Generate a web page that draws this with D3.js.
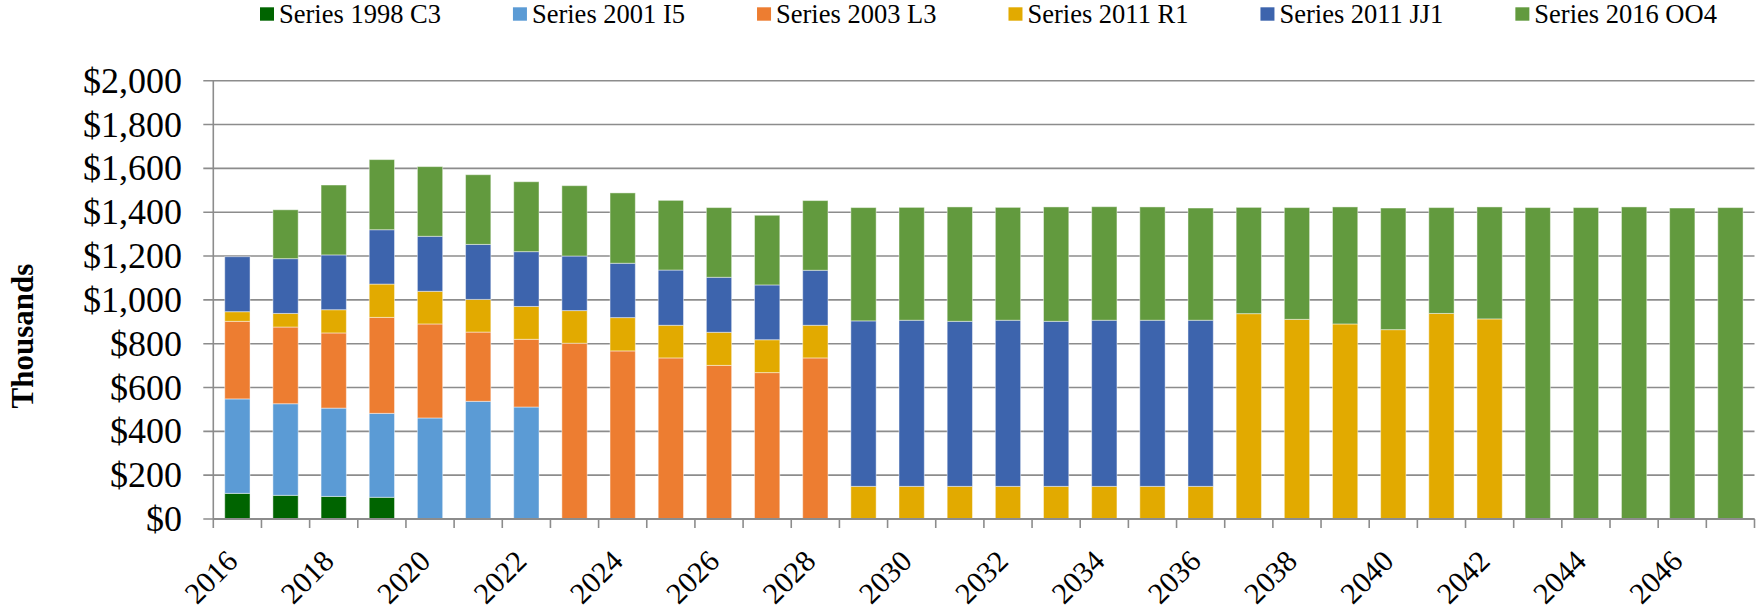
<!DOCTYPE html>
<html>
<head>
<meta charset="utf-8">
<script src="https://cdn.jsdelivr.net/npm/d3@7"></script>
<style>
  body { margin: 0; background: #fff; }
  svg text { font-family: "Liberation Serif", "Times New Roman", serif; fill: #000; }
</style>
</head>
<body>
<script>
// categories
const years = [2016, 2017, 2018, 2019, 2020, 2021, 2022, 2023, 2024, 2025, 2026, 2027, 2028, 2029, 2030, 2031,
               2032, 2033, 2034, 2035, 2036, 2037, 2038, 2039, 2040, 2041, 2042, 2043, 2044, 2045, 2046, 2047];

// series values (thousands of $)
const c3  = [117, 108, 103, 99, 0, 0, 0, 0, 0, 0, 0, 0, 0, 0, 0, 0, 0, 0, 0, 0, 0, 0, 0, 0, 0, 0, 0, 0, 0, 0, 0, 0];
const i5  = [431, 418, 403, 383, 461, 537, 511, 0, 0, 0, 0, 0, 0, 0, 0, 0, 0, 0, 0, 0, 0, 0, 0, 0, 0, 0, 0, 0, 0, 0, 0, 0];
const l3  = [354, 350, 343, 438, 429, 316, 309, 802, 767, 735, 701, 668, 735, 0, 0, 0, 0, 0, 0, 0, 0, 0, 0, 0, 0, 0, 0, 0, 0, 0, 0, 0];
const r1  = [44, 62, 106, 152, 149, 149, 150, 149, 152, 149, 151, 150, 149, 149, 149, 149, 149, 149, 149, 149, 149,
             937, 911, 890, 864, 938, 913, 0, 0, 0, 0, 0];
const jj1 = [251, 250, 250, 248, 251, 251, 250, 249, 248, 252, 251, 250, 251, 755, 758, 753, 758, 753, 758, 758, 758,
             0, 0, 0, 0, 0, 0, 0, 0, 0, 0, 0];
const oo4 = [0, 223, 319, 320, 318, 318, 319, 321, 321, 318, 318, 318, 318, 517, 515, 522, 515, 522, 518, 517, 512,
             485, 510, 534, 555, 483, 511, 1421, 1421, 1424, 1419, 1421];

const seriesNames = ["Series 1998 C3", "Series 2001 I5", "Series 2003 L3", "Series 2011 R1", "Series 2011 JJ1", "Series 2016 OO4"];
const seriesValues = [c3, i5, l3, r1, jj1, oo4];
const colors = ["#006400", "#5b9bd5", "#ed7d31", "#e2aa00", "#3d64ad", "#629a3e"];

// y axis ticks
const yTicks = [0, 200, 400, 600, 800, 1000, 1200, 1400, 1600, 1800, 2000];

const W = 1756, H = 611;
const plot = {left: 213.3, right: 1754.5, top: 80.7, bottom: 519};

const svg = d3.select("body").append("svg")
  .attr("width", W)
  .attr("height", H);

// table for stacking
const table = years.map((y, i) => {
  const row = {year: y};
  seriesNames.forEach((s, k) => row[s] = seriesValues[k][i]);
  return row;
});
const stacked = d3.stack().keys(seriesNames)(table);

// scales
const x = d3.scaleBand()
  .domain(years)
  .range([plot.left, plot.right])
  .paddingInner(0.475)
  .paddingOuter(0.2375);
const y = d3.scaleLinear().domain([0, 2000]).range([plot.bottom, plot.top]);

// gridlines + y ticks
svg.append("g")
  .selectAll("line")
  .data(yTicks)
  .join("line")
  .attr("x1", plot.left - 10)
  .attr("x2", plot.right)
  .attr("y1", d => y(d))
  .attr("y2", d => y(d))
  .attr("stroke", "#8c8c8c")
  .attr("stroke-width", 1.6);

// y labels
const fmt = d3.format("$,");
svg.append("g")
  .selectAll("text")
  .data(yTicks)
  .join("text")
  .attr("x", 182)
  .attr("y", d => y(d) + 12)
  .attr("text-anchor", "end")
  .style("font-size", "36px")
  .text(d => fmt(d));

// bars
svg.append("g")
  .selectAll("g")
  .data(stacked)
  .join("g")
  .attr("fill", (d, i) => colors[i])
  .selectAll("rect")
  .data(d => d.filter(p => p[1] - p[0] > 0))
  .join("rect")
  .attr("x", d => x(d.data.year))
  .attr("width", x.bandwidth())
  .attr("y", d => y(d[1]))
  .attr("height", d => y(d[0]) - y(d[1]))
  .attr("stroke", "rgba(255,255,255,0.45)")
  .attr("stroke-width", 1);

// y axis line
svg.append("line")
  .attr("x1", plot.left).attr("x2", plot.left)
  .attr("y1", plot.top).attr("y2", plot.bottom)
  .attr("stroke", "#8c8c8c")
  .attr("stroke-width", 1.6);

// x axis line + ticks at band boundaries
svg.append("line")
  .attr("x1", plot.left).attr("x2", plot.right)
  .attr("y1", plot.bottom).attr("y2", plot.bottom)
  .attr("stroke", "#8c8c8c")
  .attr("stroke-width", 2);

const step = x.step();
svg.append("g")
  .selectAll("line")
  .data(years.concat([years[years.length - 1] + 1]))
  .join("line")
  .attr("x1", (d, i) => plot.left + i * step)
  .attr("x2", (d, i) => plot.left + i * step)
  .attr("y1", plot.bottom)
  .attr("y2", plot.bottom + 9)
  .attr("stroke", "#8c8c8c")
  .attr("stroke-width", 1.6);

// x labels, every other year
svg.append("g")
  .selectAll("text")
  .data(years.filter((d, i) => i % 2 === 0))
  .join("text")
  .attr("transform", d => `translate(${x(d) + x.bandwidth() / 2 + 2},${plot.bottom + 44}) rotate(-45)`)
  .attr("text-anchor", "end")
  .style("font-size", "30px")
  .text(d => d);

// y title
svg.append("text")
  .attr("transform", "translate(33,336) rotate(-90)")
  .attr("text-anchor", "middle")
  .style("font-size", "31px")
  .style("font-weight", "bold")
  .text("Thousands");

// legend
const legend = svg.append("g");
let lx = 260;
seriesNames.forEach((name, i) => {
  legend.append("rect")
    .attr("x", lx).attr("y", 7.3)
    .attr("width", 14).attr("height", 13.4)
    .attr("fill", colors[i]);
  const t = legend.append("text")
    .attr("x", lx + 19)
    .attr("y", 23)
    .style("font-size", "26.5px")
    .text(name);
  lx += 19 + t.node().getComputedTextLength() + 72;
});
</script>
</body>
</html>
